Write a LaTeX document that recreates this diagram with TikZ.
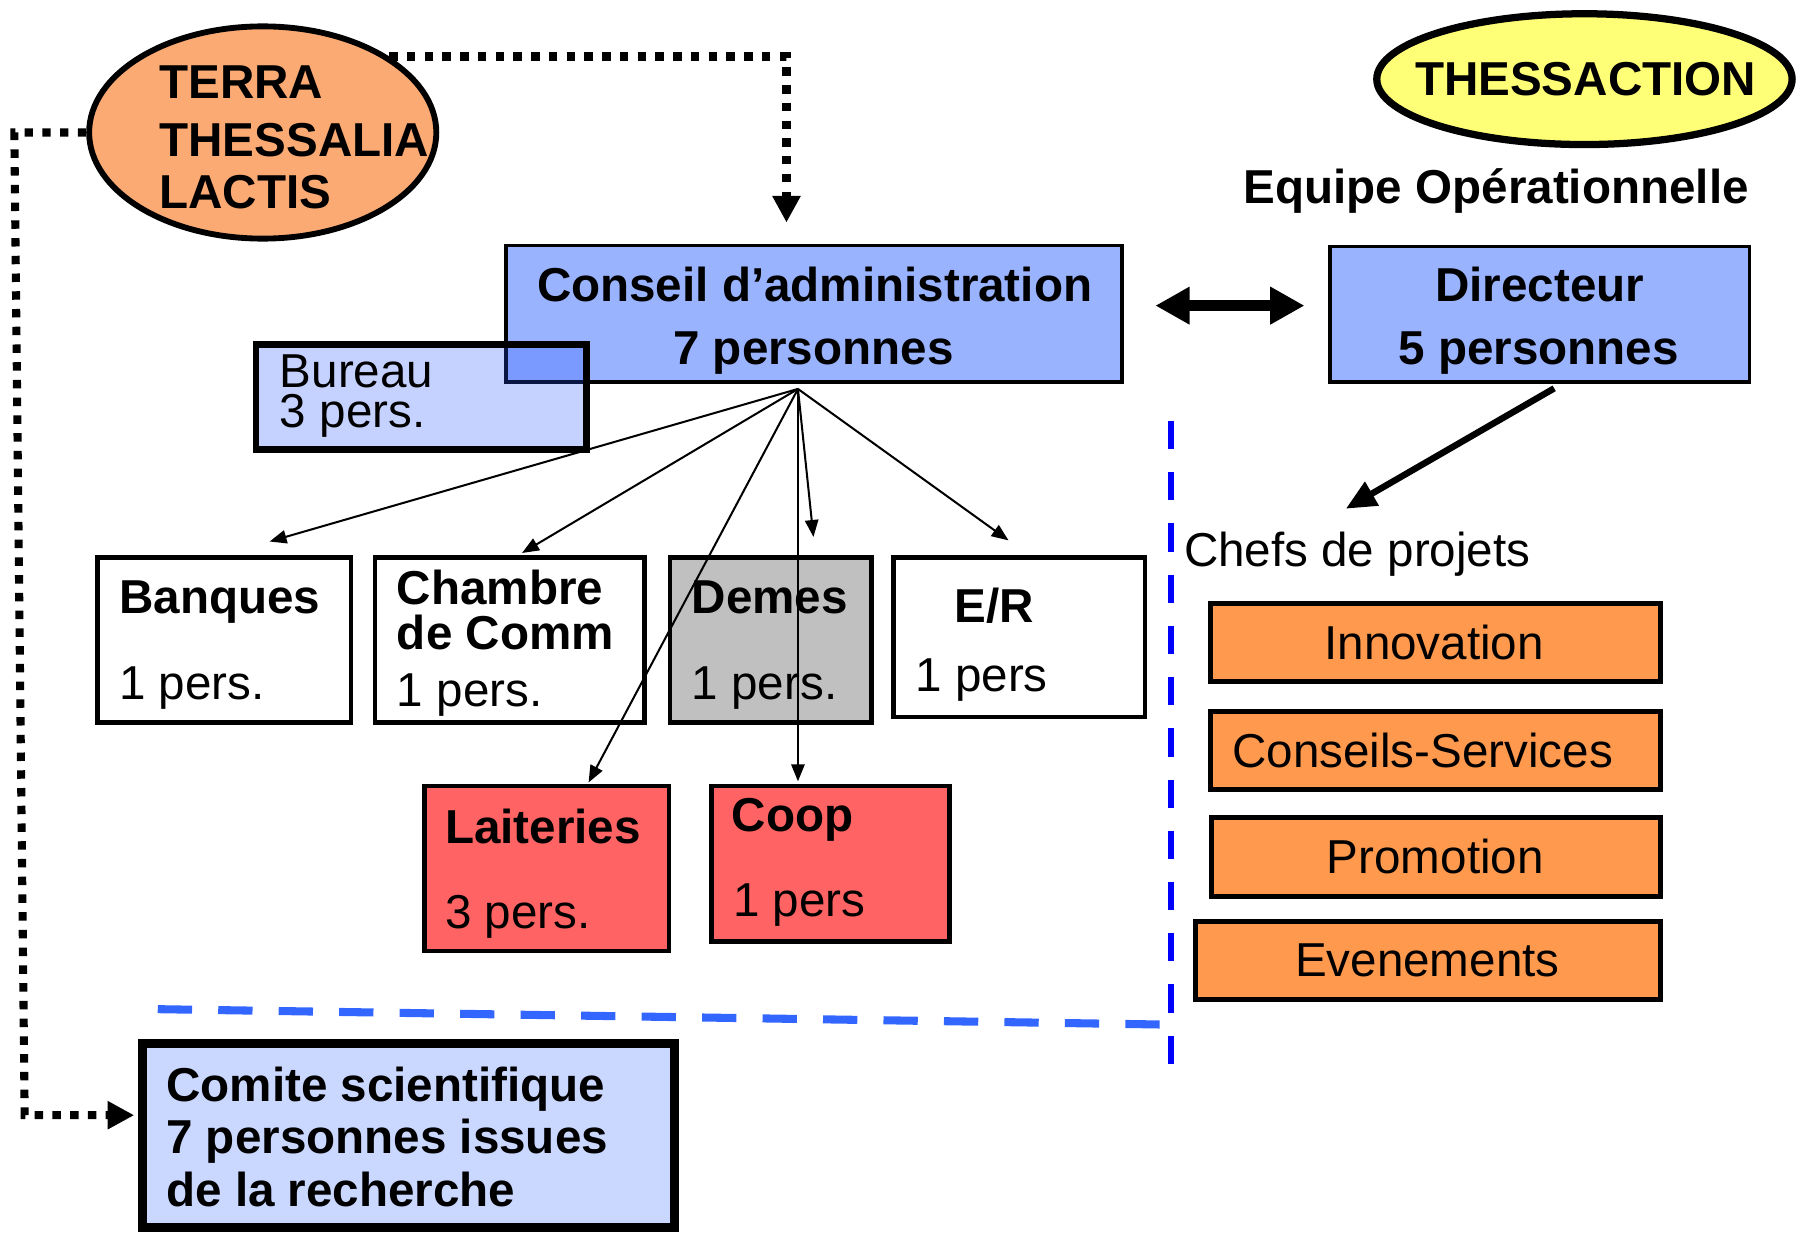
\documentclass[tikz,border=0pt]{standalone}
\usepackage{fontspec}
\setmainfont{Liberation Sans}
\usetikzlibrary{arrows.meta,fit,shapes.geometric}
\definecolor{terraC}{HTML}{FBAA74}
\definecolor{yelC}{HTML}{FFFF77}
\definecolor{blueA}{HTML}{99B3FF}
\definecolor{bureauC}{RGB}{38,86,255}
\definecolor{comiteC}{HTML}{CAD7FF}
\definecolor{grayC}{HTML}{C0C0C0}
\definecolor{redC}{HTML}{FF6363}
\definecolor{orangeC}{HTML}{FF994D}
\definecolor{sepBlue}{HTML}{0000FF}
\definecolor{sepBlueB}{HTML}{3366FF}
\newcommand\fsz{\fontsize{11.8pt}{14pt}\selectfont}
\begin{document}
\begin{tikzpicture}[x=0.1mm, y=-0.1mm,
  txt/.style={inner sep=0, outer sep=0, font=\fsz, anchor=base west},
  txtc/.style={inner sep=0, outer sep=0, font=\fsz, anchor=base},
  bld/.style={txt, font=\fsz\bfseries},
  bldc/.style={txtc, font=\fsz\bfseries},
  boxn/.style={rectangle, draw=black, inner sep=0, outer sep=0, line width=#1},
  thinarrow/.style={line width=0.5pt, -{Triangle[length=4.2pt,width=3.3pt]}},
  dotline/.style={line width=2pt, dash pattern=on 2.1pt off 2.3pt, -{Triangle[length=6.6pt,width=6.6pt]}},
]
\useasboundingbox (0,0) rectangle (1568,1074);

% ellipses
\node[ellipse, draw=black, line width=1.45pt, fill=terraC, inner sep=0,
      minimum width=30.26mm, minimum height=18.5mm] (terra) at (229,115.5) {};
\node[bld] (terra1) at (139,85.5) {TERRA};
\node[bld] (terra2) at (139,136.5) {THESSALIA};
\node[bld] (terra3) at (139,182) {LACTIS};

\node[ellipse, draw=black, line width=1.8pt, fill=yelC, inner sep=0,
      minimum width=36.2mm, minimum height=11.4mm] (thess) at (1381,69) {};
\node[bldc] (thessT) at (1382,83) {THESSACTION};
\node[bld] (equipe) at (1084,177) {Equipe Opérationnelle};

% main boxes
\node[boxn=0.9pt, fill=blueA, fit={(441,214)(978,333)}] (conseil) {};
\node[bldc] (conseil1) at (710,263) {Conseil d’administration};
\node[bldc] (conseil2) at (709,318) {7 personnes};

\node[boxn=1.65pt, fill=bureauC, fill opacity=0.267, fit={(223,300)(511,392)}] (bureau) {};
\node[txt, text depth=0pt] (bureau1) at (244,338) {Bureau};
\node[txt] (bureau2) at (244,373) {3 pers.};

\node[boxn=0.9pt, fill=blueA, fit={(1159,215)(1525,333)}] (directeur) {};
\node[bldc] (dir1) at (1342,263) {Directeur};
\node[bldc] (dir2) at (1341,318) {5 personnes};

% member boxes
\node[boxn=1.15pt, fill=white, fit={(85,486)(306,630)}] (banques) {};
\node[bld] (banques1) at (104,534.5) {Banques};
\node[txt] (banques2) at (104,610) {1 pers.};

\node[boxn=1.15pt, fill=white, fit={(327,486)(562,630)}] (chambre) {};
\node[bld] (chambre1) at (346,526.5) {Chambre};
\node[bld] (chambre2) at (346,566) {de Comm};
\node[txt] (chambre3) at (346,616) {1 pers.};

\node[boxn=1.15pt, fill=grayC, fit={(584,486)(759.5,630)}] (demes) {};
\node[bld] (demes1) at (603,534.5) {Demes};
\node[txt] (demes2) at (603,609.5) {1 pers.};

\node[boxn=1.15pt, fill=white, fit={(778.5,486)(998,625)}] (er) {};
\node[bld] (er1) at (832,543) {E/R};
\node[txt] (er2) at (798,603) {1 pers};

\node[boxn=1.15pt, fill=redC, fit={(370,685)(583,829)}] (laiteries) {};
\node[bld] (lait1) at (388,735) {Laiteries};
\node[txt] (lait2) at (388,809) {3 pers.};

\node[boxn=1.15pt, fill=redC, fit={(620,685)(827.5,820.5)}] (coop) {};
\node[bld] (coop1) at (638,725) {Coop};
\node[txt] (coop2) at (639,799) {1 pers};

% project boxes
\node[txt] (chefs) at (1032,493.4) {Chefs de projets};
\node[boxn=1.25pt, fill=orangeC, fit={(1055,526)(1447,594)}] (innov) {};
\node[txtc] (innovT) at (1250,574.5) {Innovation};
\node[boxn=1.25pt, fill=orangeC, fit={(1055,620)(1447,688.5)}] (cserv) {};
\node[txt] (cservT) at (1074,668.6) {Conseils-Services};
\node[boxn=1.25pt, fill=orangeC, fit={(1056,712.5)(1447,781)}] (promo) {};
\node[txtc] (promoT) at (1251,761) {Promotion};
\node[boxn=1.25pt, fill=orangeC, fit={(1042,803.5)(1447,871)}] (event) {};
\node[txtc] (eventT) at (1244,851.4) {Evenements};

% comite
\node[boxn=2.2pt, fill=comiteC, fit={(124,909.5)(588,1070)}] (comite) {};
\node[bld] (comite1) at (145,960) {Comite scientifique};
\node[bld] (comite2) at (145,1005) {7 personnes issues};
\node[bld] (comite3) at (145,1052) {de la recherche};

% separators
\coordinate (vsA) at (1020.7,367);
\coordinate (vsB) at (1020.7,928);
\draw[sepBlue, line width=1.5pt, dash pattern=on 7pt off 5.7pt] (vsA) -- (vsB);
\coordinate (hsA) at (137.5,879.6);
\coordinate (hsB) at (1014,893);
\draw[sepBlueB, line width=2pt, dash pattern=on 8.5pt off 6.5pt] (hsA) -- (hsB);

% fan arrows
\coordinate (fan) at (695.5,339);
\coordinate (tB) at (235,472);
\coordinate (tC) at (455,482);
\coordinate (tL) at (513,682);
\coordinate (tD) at (709,468);
\coordinate (tCo) at (695.5,681);
\coordinate (tE) at (879,471);
\draw[thinarrow] (fan) -- (tB);
\draw[thinarrow] (fan) -- (tC);
\draw[thinarrow] (fan) -- (tL);
\draw[thinarrow] (fan) -- (tD);
\draw[thinarrow] (fan) -- (tCo);
\draw[thinarrow] (fan) -- (tE);

% double arrow
\coordinate (dA) at (1007,266.4);
\coordinate (dB) at (1137,266.4);
\draw[line width=2.8pt, {Triangle[length=8.5pt,width=8.8pt]}-{Triangle[length=8.5pt,width=8.8pt]}] (dA) -- (dB);

% directeur -> chefs
\coordinate (dirS) at (1354.6,338.5);
\coordinate (chefsT) at (1173,443.4);
\draw[line width=1.6pt, -{Triangle[length=7.5pt,width=6.5pt]}] (dirS) -- (chefsT);

% dotted links
\coordinate (tipA) at (685.5,194);
\draw[dotline] (terra.31) -| (tipA);
\coordinate (lA) at (12.5,115.5);
\coordinate (lB) at (21.5,972);
\coordinate (tipB) at (117,972);
\draw[dotline] (terra.west) -- (lA) -- (lB) -- (tipB);
\end{tikzpicture}
\end{document}
